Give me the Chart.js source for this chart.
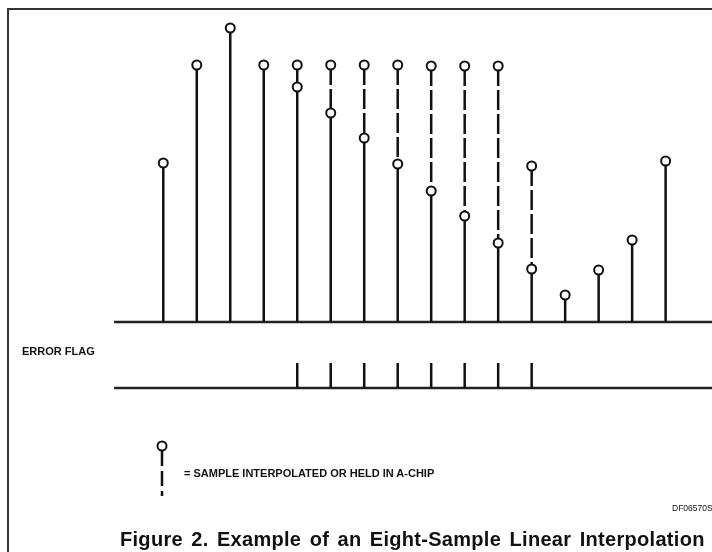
<!DOCTYPE html>
<html>
<head>
<meta charset="utf-8">
<script src="https://cdn.jsdelivr.net/npm/chart.js@4.4.1/dist/chart.umd.min.js"></script>
<style>
    body { margin: 0; background: #fff; }
    #wrap { position: relative; width: 712px; height: 552px; overflow: hidden; }
    #frame { position: absolute; left: 7px; top: 8px; width: 720px; height: 560px;
        border-top: 2px solid #333; border-left: 2px solid #333; }
    canvas { position: absolute; left: 0; top: 0; }
    .lbl { position: absolute; font-family: "Liberation Sans", Arial, sans-serif; font-weight: bold; color: #111; white-space: nowrap; }
</style>
</head>
<body>
<div id="wrap">
    <div id="frame"></div>
    <canvas id="myChart" width="712" height="552"></canvas>
    <div class="lbl" style="left:22px; top:345px; font-size:11px;">ERROR FLAG</div>
    <div class="lbl" style="left:184px; top:467px; font-size:11px;">= SAMPLE INTERPOLATED OR HELD IN A-CHIP</div>
    <div class="lbl" style="left:672px; top:503px; font-size:8.5px; font-weight:normal;">DF06570S</div>
    <div class="lbl" style="left:120px; top:528px; font-size:20px; letter-spacing:0.3px; word-spacing:2.5px;">Figure 2. Example of an Eight-Sample Linear Interpolation</div>
</div>
<script>
// sample numbers
const samples = [1, 2, 3, 4, 5, 6, 7, 8, 9, 10, 11, 12, 13, 14, 15, 16];
// top circle of each stem (original / held value)
const heldValues = [159, 257, 294, 257, 257, 257, 257, 257, 256, 256, 256, 156, 27, 52, 82, 161];
// lower circle = interpolated value, null where the sample is good
const interpValues = [null, null, null, null, 235, 209, 184, 158, 131, 106, 79, 53, null, null, null, null];
// error flag raised on these samples
const errorFlags = [0, 0, 0, 0, 1, 1, 1, 1, 1, 1, 1, 1, 0, 0, 0, 0];

const flagLevel = -66;
const flagHeight = 25;
const lineStart = -0.47;

document.addEventListener('DOMContentLoaded', function() {
    const solidStems = [];
    const dashedStems = [];
    const circles = [];
    const flagTicks = [];

    samples.forEach((s, i) => {
        const top = heldValues[i];
        const low = interpValues[i];
        solidStems.push({ x: s, y: 0 }, { x: s, y: low !== null ? low : top }, { x: s, y: null });
        circles.push({ x: s, y: top });
        if (low !== null) {
            dashedStems.push({ x: s, y: top }, { x: s, y: low }, { x: s, y: null });
            circles.push({ x: s, y: low });
        }
        if (errorFlags[i]) {
            flagTicks.push({ x: s, y: flagLevel }, { x: s, y: flagLevel + flagHeight }, { x: s, y: null });
        }
    });

    const xMin = -3.876, xMax = 17.385;

    // legend glyph (circle over dashed stem)
    const legendGlyph = {
        id: 'legendGlyph',
        afterDraw(chart) {
            const c = chart.ctx;
            c.save();
            c.strokeStyle = '#111';
            c.lineWidth = 2.5;
            c.setLineDash([15, 5]);
            c.beginPath();
            c.moveTo(162, 451);
            c.lineTo(162, 496);
            c.stroke();
            c.setLineDash([]);
            c.lineWidth = 2;
            c.fillStyle = '#fff';
            c.beginPath();
            c.arc(162, 446, 4.5, 0, Math.PI * 2);
            c.fill();
            c.stroke();
            c.restore();
        }
    };

    new Chart(document.getElementById('myChart'), {
        type: 'scatter',
        data: {
            datasets: [
                {
                    label: 'circles',
                    data: circles,
                    showLine: false,
                    pointRadius: 4.5,
                    pointBorderWidth: 2,
                    pointBackgroundColor: '#fff',
                    pointBorderColor: '#111',
                    order: 0
                },
                {
                    label: 'solid',
                    data: solidStems,
                    showLine: true,
                    spanGaps: false,
                    borderColor: '#111',
                    borderWidth: 2.5,
                    pointRadius: 0,
                    order: 1
                },
                {
                    label: 'dashed',
                    data: dashedStems,
                    showLine: true,
                    spanGaps: false,
                    borderColor: '#111',
                    borderWidth: 2.5,
                    borderDash: [20, 4],
                    pointRadius: 0,
                    order: 1
                },
                {
                    label: 'baseline',
                    data: [{ x: lineStart, y: 0 }, { x: xMax, y: 0 }],
                    showLine: true,
                    borderColor: '#222',
                    borderWidth: 2.5,
                    pointRadius: 0,
                    order: 2
                },
                {
                    label: 'flag baseline',
                    data: [{ x: lineStart, y: flagLevel }, { x: xMax, y: flagLevel }],
                    showLine: true,
                    borderColor: '#222',
                    borderWidth: 2.5,
                    pointRadius: 0,
                    order: 2
                },
                {
                    label: 'flags',
                    data: flagTicks,
                    showLine: true,
                    spanGaps: false,
                    borderColor: '#111',
                    borderWidth: 2.5,
                    pointRadius: 0,
                    order: 1
                }
            ]
        },
        options: {
            responsive: false,
            animation: false,
            layout: { padding: 0, autoPadding: false },
            scales: {
                x: { type: 'linear', min: xMin, max: xMax, display: false },
                y: { type: 'linear', min: -230, max: 322, display: false }
            },
            plugins: { legend: { display: false }, tooltip: { enabled: false } }
        },
        plugins: [legendGlyph]
    });
});
</script>
</body>
</html>
